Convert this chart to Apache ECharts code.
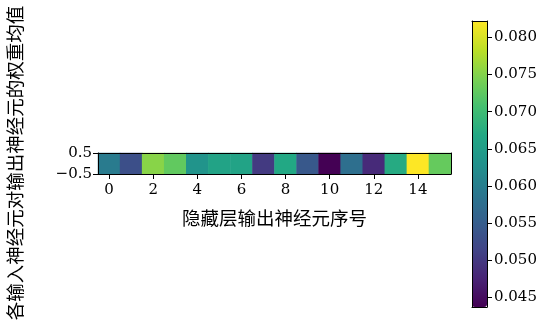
<!DOCTYPE html>
<html>
<head>
<meta charset="utf-8">
<script src="https://cdn.jsdelivr.net/npm/echarts@6/dist/echarts.min.js"></script>
<style>html,body{margin:0;padding:0;background:#fff;}#c{width:545px;height:324px;}</style>
</head>
<body>
<div id="c"></div>
<script>
// ---- data ----
var neuronIndex = ['0','1','2','3','4','5','6','7','8','9','10','11','12','13','14','15'];
var meanWeights = [0.0595, 0.0530, 0.0753, 0.0727, 0.0635, 0.0660, 0.0660, 0.0502, 0.0668, 0.0542, 0.0437, 0.0577, 0.0483, 0.0672, 0.0822, 0.0730];
var rowTicks = [-0.5, 0.5];
var colorbarTicks = [0.045, 0.050, 0.055, 0.060, 0.065, 0.070, 0.075, 0.080];
var colorMin = 0.0437, colorMax = 0.0822;
var xLabel = '隐藏层输出神经元序号';
var yLabel = '各输入神经元对输出神经元的权重均值';
var viridis = ['#440154','#482475','#414487','#355f8d','#2a788e','#21918c','#22a884','#44bf70','#7ad151','#bddf26','#fde725'];

var numFont = 'DejaVu Serif';
var cjkFont = 'Noto Sans CJK SC';
var blackLine = {show: true, onZero: false, lineStyle: {color: '#000', width: 1}};

var heatData = meanWeights.map(function (v, i) { return [i, 0, v]; });

var chart = echarts.init(document.getElementById('c'), null, {renderer: 'canvas'});
chart.setOption({
  animation: false,
  backgroundColor: '#fff',
  grid: [
    {left: 98, top: 153, width: 353, height: 21, containLabel: false},
    {left: 472, top: 21, width: 15, height: 286, containLabel: false}
  ],
  xAxis: [
    {type: 'category', gridIndex: 0, position: 'bottom', data: neuronIndex, z: 10,
     axisLine: blackLine,
     axisTick: {show: true, inside: false, length: 5, alignWithLabel: true, interval: 1, lineStyle: {color: '#000'}},
     axisLabel: {interval: 1, margin: 9, color: '#000', fontFamily: numFont, fontSize: 15},
     splitLine: {show: false},
     name: xLabel, nameLocation: 'middle', nameGap: 35,
     nameTextStyle: {color: '#000', fontFamily: cjkFont, fontSize: 18.5}},
    {type: 'category', gridIndex: 0, position: 'top', data: neuronIndex, z: 10,
     axisLine: blackLine, axisTick: {show: false}, axisLabel: {show: false}, splitLine: {show: false}},
    {type: 'category', gridIndex: 1, position: 'bottom', data: [''], z: 10,
     axisLine: blackLine, axisTick: {show: false}, axisLabel: {show: false}, splitLine: {show: false}},
    {type: 'category', gridIndex: 1, position: 'top', data: [''], z: 10,
     axisLine: blackLine, axisTick: {show: false}, axisLabel: {show: false}, splitLine: {show: false}}
  ],
  yAxis: [
    {type: 'category', gridIndex: 0, data: ['0'], show: false},
    {type: 'value', gridIndex: 0, position: 'left', min: -0.5, max: 0.5, z: 10,
     axisLine: blackLine,
     axisTick: {show: true, length: 5, customValues: rowTicks, lineStyle: {color: '#000'}},
     axisLabel: {customValues: rowTicks, margin: 6, color: '#000', fontFamily: numFont, fontSize: 15,
       formatter: function (v) { return v < 0 ? '\u2212' + Math.abs(v) : String(v); }},
     splitLine: {show: false}},
    {type: 'category', gridIndex: 0, position: 'right', data: ['0'], z: 10,
     axisLine: blackLine, axisTick: {show: false}, axisLabel: {show: false}, splitLine: {show: false}},
    {type: 'value', gridIndex: 1, position: 'right', min: colorMin, max: colorMax, z: 10,
     axisLine: blackLine,
     axisTick: {show: true, length: 5, customValues: colorbarTicks, lineStyle: {color: '#000'}},
     axisLabel: {customValues: colorbarTicks, margin: 7, color: '#000', fontFamily: numFont, fontSize: 15,
       formatter: function (v) { return v.toFixed(3); }},
     splitLine: {show: false}},
    {type: 'value', gridIndex: 1, position: 'left', min: colorMin, max: colorMax, z: 10,
     axisLine: blackLine, axisTick: {show: false}, axisLabel: {show: false}, splitLine: {show: false}}
  ],
  visualMap: {
    type: 'continuous', seriesIndex: 0, min: colorMin, max: colorMax,
    calculable: false, showLabel: false, text: null,
    left: 472, top: 21, itemWidth: 15, itemHeight: 286, padding: 0,
    orient: 'vertical', inRange: {color: viridis}
  },
  graphic: [{
    type: 'text', x: 15, y: 163, rotation: Math.PI / 2,
    style: {text: yLabel, fill: '#000', font: '18.5px "' + cjkFont + '"', textAlign: 'center', textVerticalAlign: 'middle'}
  }],
  series: [{
    type: 'heatmap', xAxisIndex: 0, yAxisIndex: 0, data: heatData,
    itemStyle: {borderWidth: 0},
    emphasis: {disabled: true}
  }]
});
</script>
</body>
</html>
